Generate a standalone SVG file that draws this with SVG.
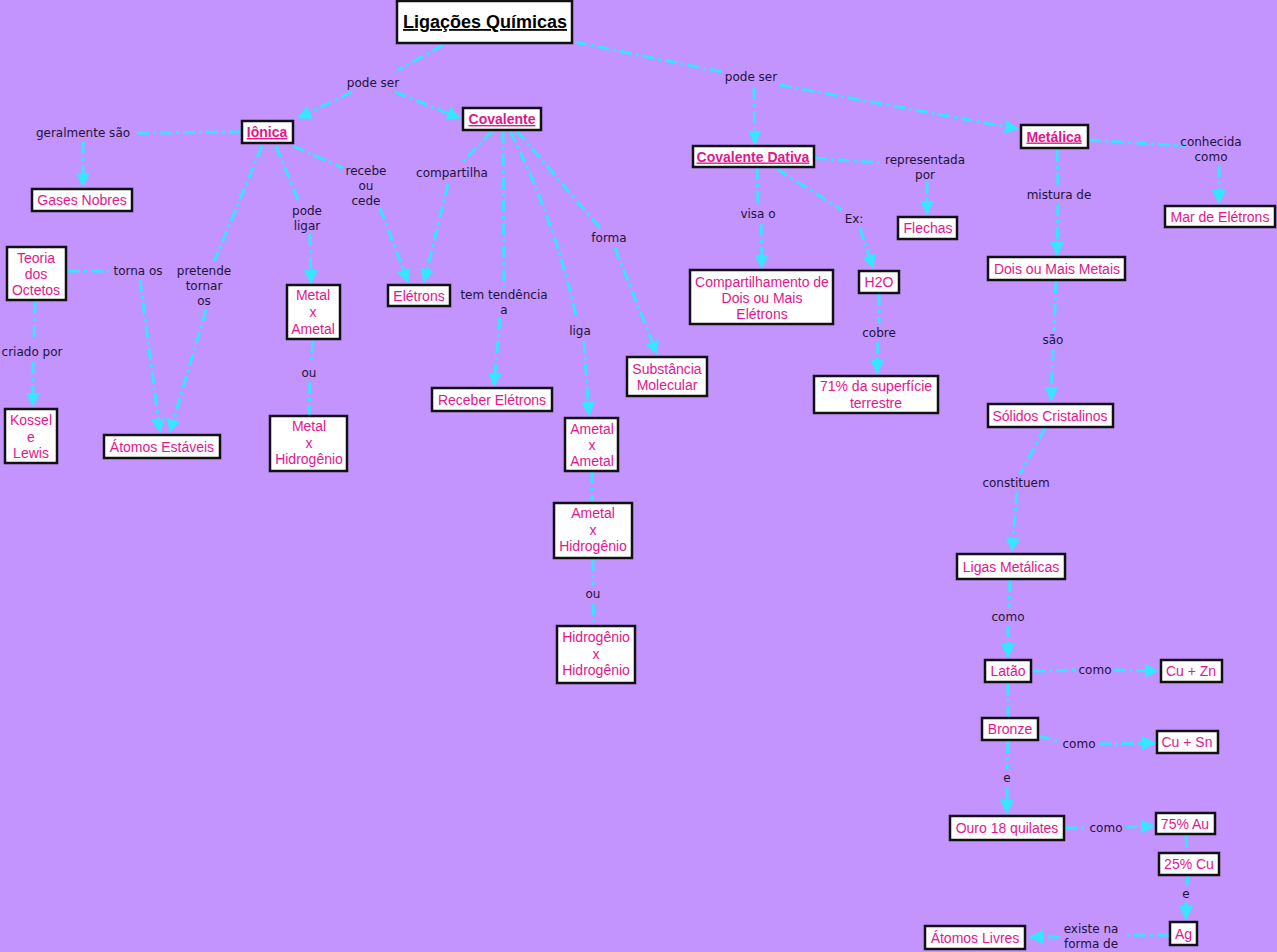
<svg xmlns="http://www.w3.org/2000/svg" width="1277" height="952" viewBox="0 0 1277 952">
<style>
.bg{fill:#c393fe}
.n rect{fill:#fff;stroke:#111;stroke-width:2.5}
.t{font-family:"Liberation Sans",Arial,sans-serif;font-size:14px;fill:#e3168c;text-anchor:middle}
.b{font-weight:bold;text-decoration:underline}
.title{font-family:"Liberation Sans",Arial,sans-serif;font-size:18px;font-weight:bold;text-decoration:underline;fill:#000;text-anchor:middle}
.l{font-family:"DejaVu Sans",Verdana,sans-serif;font-size:12px;fill:#1e1438;text-anchor:middle}
.c path{fill:none;stroke:#36e6ff;stroke-width:3;stroke-dasharray:12 4 3 4}
.c path.a{marker-end:url(#ar)}
</style>
<defs>
<marker id="ar" viewBox="0 0 14 14" refX="13" refY="7" markerWidth="14" markerHeight="14" markerUnits="userSpaceOnUse" orient="auto">
<path d="M0,0 L14,7 L0,14 z" fill="#36e6ff"/>
</marker>
</defs>
<rect class="bg" x="0" y="0" width="1277" height="952"/>

<g id="connectors" class="c">
<path d="M443,45 L398,70"/>
<path class="a" d="M352,92 L298,118"/>
<path class="a" d="M395,92 L460,118"/>
<path d="M575,42 L722,72"/>
<path class="a" d="M754,88 L755,144"/>
<path class="a" d="M780,85 L1018,129"/>
<path d="M241,132 L136,133"/>
<path class="a" d="M83,142 L83,186"/>
<path d="M262,146 L214,262"/>
<path class="a" d="M206,310 L170,432"/>
<path d="M276,146 L298,200"/>
<path class="a" d="M310,234 L311,283"/>
<path d="M293,146 L343,168"/>
<path class="a" d="M380,208 L408,282"/>
<path d="M492,131 L462,163"/>
<path class="a" d="M448,184 L424,282"/>
<path d="M503,131 L504,287"/>
<path class="a" d="M500,318 L494,386"/>
<path d="M510,131 Q555,220 577,320"/>
<path class="a" d="M584,341 L589,415"/>
<path d="M517,131 L600,228"/>
<path class="a" d="M615,248 L657,354"/>
<path d="M68,271 L112,271"/>
<path class="a" d="M140,280 L160,432"/>
<path d="M35,302 L34,342"/>
<path class="a" d="M33,362 L33,406"/>
<path d="M313,341 L311,364"/>
<path d="M310,382 L309,415"/>
<path d="M592,472 L592,502"/>
<path d="M593,559 L593,585"/>
<path d="M593,603 L594,625"/>
<path d="M757,168 L758,205"/>
<path class="a" d="M761,224 L762,268"/>
<path d="M777,169 L842,210"/>
<path class="a" d="M860,228 L873,268"/>
<path d="M815,158 L882,163"/>
<path class="a" d="M927,182 L927,214"/>
<path d="M879,294 L879,324"/>
<path class="a" d="M878,342 L877,373"/>
<path d="M1089,140 L1185,146"/>
<path class="a" d="M1219,165 L1219,203"/>
<path d="M1057,150 L1058,186"/>
<path class="a" d="M1058,204 L1057,255"/>
<path d="M1056,281 L1054,331"/>
<path class="a" d="M1053,349 L1051,400"/>
<path d="M1045,428 L1020,474"/>
<path class="a" d="M1017,492 L1012,551"/>
<path d="M1010,580 L1009,608"/>
<path class="a" d="M1008,626 L1008,657"/>
<path d="M1033,671 L1077,670"/>
<path class="a" d="M1113,670 L1158,671"/>
<path d="M1008,683 L1008,717"/>
<path d="M1039,736 L1061,742"/>
<path class="a" d="M1099,744 L1155,743"/>
<path d="M1008,741 L1007,769"/>
<path class="a" d="M1007,787 L1007,813"/>
<path d="M1065,828 L1087,828"/>
<path class="a" d="M1126,827 L1154,826"/>
<path d="M1186,835 L1187,852"/>
<path d="M1188,876 L1187,885"/>
<path class="a" d="M1186,902 L1186,919"/>
<path d="M1169,935 L1123,935"/>
<path class="a" d="M1060,937 L1030,937"/>
</g>

<g id="labels">
<text class="l" x="373" y="87">pode ser</text>
<text class="l" x="751" y="81">pode ser</text>
<text class="l" x="83" y="137">geralmente são</text>
<text class="l" x="204" y="275">pretende</text>
<text class="l" x="204" y="290">tornar</text>
<text class="l" x="204" y="305">os</text>
<text class="l" x="307" y="215">pode</text>
<text class="l" x="307" y="230">ligar</text>
<text class="l" x="366" y="175">recebe</text>
<text class="l" x="366" y="190">ou</text>
<text class="l" x="366" y="205">cede</text>
<text class="l" x="452" y="177">compartilha</text>
<text class="l" x="504" y="299">tem tendência</text>
<text class="l" x="504" y="314">a</text>
<text class="l" x="580" y="335">liga</text>
<text class="l" x="609" y="242">forma</text>
<text class="l" x="138" y="275">torna os</text>
<text class="l" x="32" y="356">criado por</text>
<text class="l" x="309" y="377">ou</text>
<text class="l" x="593" y="598">ou</text>
<text class="l" x="758" y="218">visa o</text>
<text class="l" x="854" y="223">Ex:</text>
<text class="l" x="925" y="164">representada</text>
<text class="l" x="925" y="179">por</text>
<text class="l" x="879" y="337">cobre</text>
<text class="l" x="1211" y="146">conhecida</text>
<text class="l" x="1211" y="161">como</text>
<text class="l" x="1059" y="199">mistura de</text>
<text class="l" x="1053" y="344">são</text>
<text class="l" x="1016" y="487">constituem</text>
<text class="l" x="1008" y="621">como</text>
<text class="l" x="1095" y="674">como</text>
<text class="l" x="1079" y="748">como</text>
<text class="l" x="1007" y="782">e</text>
<text class="l" x="1106" y="832">como</text>
<text class="l" x="1186" y="898">e</text>
<text class="l" x="1091" y="933">existe na</text>
<text class="l" x="1091" y="948">forma de</text>
</g>

<g id="n-ligacoes" class="n"><rect x="397" y="1" width="175" height="42"/><text class="title" x="485" y="28">Ligações Químicas</text></g>
<g id="n-ionica" class="n"><rect x="242" y="121" width="51" height="22"/><text class="t b" x="267" y="137">Iônica</text></g>
<g id="n-covalente" class="n"><rect x="463" y="108" width="78" height="22"/><text class="t b" x="502" y="124">Covalente</text></g>
<g id="n-dativa" class="n"><rect x="693" y="146" width="121" height="21"/><text class="t b" x="753" y="161.5">Covalente Dativa</text></g>
<g id="n-metalica" class="n"><rect x="1021" y="125" width="67" height="23"/><text class="t b" x="1054" y="141.5">Metálica</text></g>
<g id="n-gases" class="n"><rect x="32" y="189" width="100" height="22"/><text class="t" x="82" y="205">Gases Nobres</text></g>
<g id="n-teoria" class="n"><rect x="7" y="247" width="59" height="53"/><text class="t" x="36" y="263">Teoria</text><text class="t" x="36" y="279">dos</text><text class="t" x="36" y="295">Octetos</text></g>
<g id="n-kossel" class="n"><rect x="5" y="409" width="52" height="54"/><text class="t" x="31" y="425">Kossel</text><text class="t" x="31" y="442">e</text><text class="t" x="31" y="458">Lewis</text></g>
<g id="n-atomos-estaveis" class="n"><rect x="104" y="435" width="116" height="23"/><text class="t" x="162" y="452">Átomos Estáveis</text></g>
<g id="n-metal-ametal" class="n"><rect x="287" y="285" width="53" height="54"/><text class="t" x="313" y="300">Metal</text><text class="t" x="313" y="317">x</text><text class="t" x="313" y="334">Ametal</text></g>
<g id="n-metal-hid" class="n"><rect x="270" y="416" width="77" height="55"/><text class="t" x="309" y="431">Metal</text><text class="t" x="309" y="448">x</text><text class="t" x="309" y="464">Hidrogênio</text></g>
<g id="n-eletrons" class="n"><rect x="388" y="285" width="62" height="21"/><text class="t" x="419" y="300.5">Elétrons</text></g>
<g id="n-receber" class="n"><rect x="432" y="388" width="120" height="23"/><text class="t" x="492" y="404.5">Receber Elétrons</text></g>
<g id="n-ametal-ametal" class="n"><rect x="565" y="418" width="53" height="53"/><text class="t" x="592" y="434">Ametal</text><text class="t" x="592" y="450">x</text><text class="t" x="592" y="466">Ametal</text></g>
<g id="n-ametal-hid" class="n"><rect x="554" y="503" width="78" height="55"/><text class="t" x="593" y="518">Ametal</text><text class="t" x="593" y="535">x</text><text class="t" x="593" y="551">Hidrogênio</text></g>
<g id="n-hid-hid" class="n"><rect x="557" y="626" width="78" height="57"/><text class="t" x="596" y="642">Hidrogênio</text><text class="t" x="596" y="659">x</text><text class="t" x="596" y="675">Hidrogênio</text></g>
<g id="n-substancia" class="n"><rect x="627" y="357" width="80" height="39"/><text class="t" x="667" y="374">Substância</text><text class="t" x="667" y="390">Molecular</text></g>
<g id="n-compart" class="n"><rect x="690" y="270" width="143" height="54"/><text class="t" x="762" y="287">Compartilhamento de</text><text class="t" x="762" y="303">Dois ou Mais</text><text class="t" x="762" y="319">Elétrons</text></g>
<g id="n-h2o" class="n"><rect x="859" y="271" width="40" height="22"/><text class="t" x="879" y="287">H2O</text></g>
<g id="n-71" class="n"><rect x="814" y="376" width="124" height="37"/><text class="t" x="876" y="391">71% da superfície</text><text class="t" x="876" y="408">terrestre</text></g>
<g id="n-flechas" class="n"><rect x="898" y="217" width="59" height="22"/><text class="t" x="928" y="233">Flechas</text></g>
<g id="n-mar" class="n"><rect x="1165" y="206" width="110" height="21"/><text class="t" x="1220" y="221.5">Mar de Elétrons</text></g>
<g id="n-dois" class="n"><rect x="988" y="257" width="137" height="23"/><text class="t" x="1057" y="273.5">Dois ou Mais Metais</text></g>
<g id="n-solidos" class="n"><rect x="988" y="404" width="125" height="23"/><text class="t" x="1050" y="420.5">Sólidos Cristalinos</text></g>
<g id="n-ligas" class="n"><rect x="957" y="554" width="108" height="25"/><text class="t" x="1011" y="571.5">Ligas Metálicas</text></g>
<g id="n-latao" class="n"><rect x="985" y="660" width="46" height="22"/><text class="t" x="1008" y="676">Latão</text></g>
<g id="n-bronze" class="n"><rect x="982" y="718" width="56" height="22"/><text class="t" x="1010" y="734">Bronze</text></g>
<g id="n-cuzn" class="n"><rect x="1161" y="660" width="61" height="22"/><text class="t" x="1191" y="676">Cu + Zn</text></g>
<g id="n-cusn" class="n"><rect x="1157" y="731" width="61" height="22"/><text class="t" x="1187" y="747">Cu + Sn</text></g>
<g id="n-ouro" class="n"><rect x="950" y="816" width="114" height="24"/><text class="t" x="1007" y="833">Ouro 18 quilates</text></g>
<g id="n-au" class="n"><rect x="1156" y="813" width="59" height="21"/><text class="t" x="1185" y="828.5">75% Au</text></g>
<g id="n-cu" class="n"><rect x="1159" y="853" width="60" height="22"/><text class="t" x="1189" y="869">25% Cu</text></g>
<g id="n-ag" class="n"><rect x="1170" y="922" width="27" height="23"/><text class="t" x="1183.5" y="938.5">Ag</text></g>
<g id="n-atomos-livres" class="n"><rect x="925" y="926" width="100" height="23"/><text class="t" x="975" y="942.5">Átomos Livres</text></g>
</svg>
